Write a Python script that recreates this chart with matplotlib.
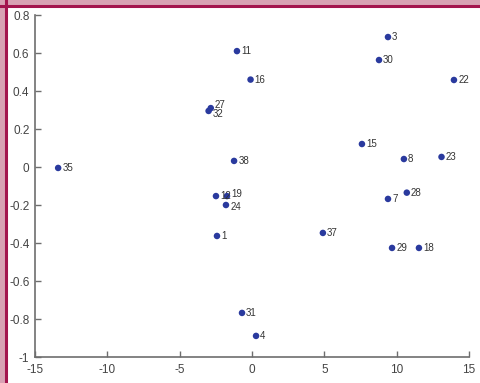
import matplotlib
matplotlib.use("Agg")
import matplotlib.pyplot as plt
from matplotlib.patches import Rectangle
from matplotlib.lines import Line2D

# Sample coordinates in the two-dimensional embedding
labels = ["35", "11", "16", "3", "30", "22", "27", "32", "38",
          "12", "19", "24", "1", "31", "4", "37", "29", "18", "7", "28",
          "15", "8", "23"]
xs = [-13.4, -1.04, -0.1, 9.4, 8.78, 13.96, -2.85, -3.0, -1.24,
      -2.49, -1.73, -1.80, -2.42, -0.69, 0.28, 4.9, 9.68, 11.54, 9.4, 10.7,
      7.6, 10.5, 13.1]
ys = [-0.005, 0.61, 0.46, 0.684, 0.563, 0.458, 0.31, 0.295, 0.032,
      -0.153, -0.153, -0.20, -0.363, -0.768, -0.889, -0.347, -0.426, -0.426, -0.168, -0.135,
      0.121, 0.042, 0.053]
# vertical label nudges (points) where two labels sit close together
nudges = {"27": 2.5, "32": -2.5, "12": 0, "19": 1.5, "24": -1.5}

xticks = [-15, -10, -5, 0, 5, 10, 15]
yticks = [-1, -0.8, -0.6, -0.4, -0.2, 0, 0.2, 0.4, 0.6, 0.8]

plt.rcParams["font.family"] = ["Liberation Sans", "DejaVu Sans"]

W, H = 481, 383
fig = plt.figure(figsize=(W / 100, H / 100), dpi=100)
fig.patch.set_facecolor("white")

# Decorative page frame along the top and left edges
fig.patches.append(Rectangle((0, 1 - 5 / H), 1, 5 / H, transform=fig.transFigure,
                             facecolor="#d8a2b4", edgecolor="none", zorder=0))
fig.patches.append(Rectangle((0, 0), 5 / W, 1, transform=fig.transFigure,
                             facecolor="#d8a2b4", edgecolor="none", zorder=0))
fig.lines.append(Line2D([0, 1], [1 - 6 / H, 1 - 6 / H], transform=fig.transFigure,
                        color="#a3154e", lw=2.2, zorder=1))
fig.lines.append(Line2D([6 / W, 6 / W], [0, 1], transform=fig.transFigure,
                        color="#a3154e", lw=2.2, zorder=1))

ax = fig.add_axes([35 / W, 1 - 357 / H, (469 - 35) / W, (357 - 15) / H])
ax.set_xlim(-15, 15)
ax.set_ylim(-1, 0.8)

ax.scatter(xs, ys, s=22, color="#2a3a9e", edgecolors="none", zorder=3)
for x, y, t in zip(xs, ys, labels):
    ax.annotate(t, (x, y), xytext=(3, nudges.get(t, 0)), textcoords="offset points",
                ha="left", va="center", fontsize=7, color="#333333", zorder=4)

ax.set_xticks(xticks)
ax.set_yticks(yticks)
ax.set_xticklabels([str(v) for v in xticks])
ax.set_yticklabels(["-1", "-0.8", "-0.6", "-0.4", "-0.2", "0", "0.2", "0.4", "0.6", "0.8"])
for side in ["top", "right"]:
    ax.spines[side].set_visible(False)
for side in ["left", "bottom"]:
    ax.spines[side].set_color("#6e6e6e")
    ax.spines[side].set_linewidth(1.2)
ax.tick_params(direction="in", length=4, width=1, color="#6e6e6e",
               labelsize=8.5, labelcolor="#444444")
ax.tick_params(axis="x", pad=5)
ax.tick_params(axis="y", pad=4)

fig.savefig("out.png", dpi=100)
